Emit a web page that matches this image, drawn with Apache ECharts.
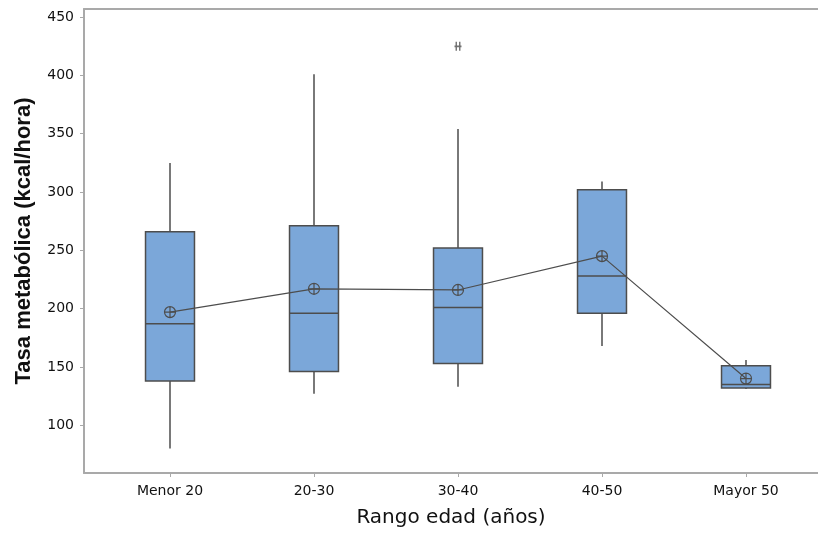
<!DOCTYPE html>
<html>
<head>
<meta charset="utf-8">
<script src="https://cdn.jsdelivr.net/npm/echarts@6/dist/echarts.min.js"></script>
<style>
  html, body { margin: 0; padding: 0; background: #fff; }
  #chart { width: 818px; height: 533px; }
</style>
</head>
<body>
<div id="chart"></div>
<script>
// datos (kcal/hora)
var categories = ['Menor 20', '20-30', '30-40', '40-50', 'Mayor 50'];
var minVals    = [80, 127, 133, 168, 131];
var q1Vals     = [138, 146, 153, 196, 132];
var medianVals = [187, 196, 201, 228, 135];
var q3Vals     = [266, 271, 252, 302, 151];
var maxVals    = [325, 401, 354, 309, 156];
var meanVals   = [197, 217, 216, 245, 140];
var outliers   = [['30-40', 425]];
var yTicks     = [100, 150, 200, 250, 300, 350, 400, 450];

var boxData = categories.map(function(c, i) {
    return [i, minVals[i], q1Vals[i], medianVals[i], q3Vals[i], maxVals[i]];
});

var lineColor = '#4d4d4d';
var boxColor = '#7ba7d9';
var frameColor = '#a9a9a9';

//caja sin remates en los bigotes (estilo Minitab)
function renderBox(params, api) {
    var x = api.value(0);
    var lo = api.coord([x, api.value(1)]);
    var q1 = api.coord([x, api.value(2)]);
    var md = api.coord([x, api.value(3)]);
    var q3 = api.coord([x, api.value(4)]);
    var hi = api.coord([x, api.value(5)]);
    var half = api.size([1, 0])[0] * 0.17;
    var st = { stroke: lineColor, lineWidth: 1.5 };
    return {
        type: 'group',
        children: [
            { type: 'line', shape: { x1: hi[0], y1: hi[1], x2: q3[0], y2: q3[1] }, style: st },
            { type: 'line', shape: { x1: q1[0], y1: q1[1], x2: lo[0], y2: lo[1] }, style: st },
            { type: 'rect', shape: { x: q3[0] - half, y: q3[1], width: half * 2, height: q1[1] - q3[1] },
              style: { fill: boxColor, stroke: lineColor, lineWidth: 1.5 } },
            { type: 'line', shape: { x1: md[0] - half, y1: md[1], x2: md[0] + half, y2: md[1] }, style: st }
        ]
    };
}

var chart = echarts.init(document.getElementById('chart'));
var option = {
    backgroundColor: '#fff',
    animation: false,
    grid: [
        { left: 98, right: -6, top: 9, bottom: 60 },
        { left: 84, right: -12, top: 9, bottom: 60 }
    ],
    xAxis: [
        {
            type: 'category',
            gridIndex: 0,
            data: categories,
            axisLine: { show: false },
            axisTick: { show: true, alignWithLabel: true, length: 4, lineStyle: { color: frameColor } },
            axisLabel: { color: '#111', fontSize: 14, fontFamily: 'DejaVu Sans', margin: 11 },
            splitLine: { show: false }
        },
        {
            type: 'value', gridIndex: 1, min: 0, max: 1, position: 'bottom',
            axisLine: { show: true, lineStyle: { color: frameColor, width: 2 } },
            axisTick: { show: false }, axisLabel: { show: false }, splitLine: { show: false },
            name: 'Rango edad (años)',
            nameLocation: 'middle',
            nameGap: 35,
            nameTextStyle: { color: '#111', fontSize: 20, fontFamily: 'DejaVu Sans' }
        },
        {
            type: 'value', gridIndex: 1, min: 0, max: 1, position: 'top',
            axisLine: { show: true, lineStyle: { color: frameColor, width: 2 } },
            axisTick: { show: false }, axisLabel: { show: false }, splitLine: { show: false }
        }
    ],
    yAxis: [
        {
            type: 'value',
            gridIndex: 0,
            min: 59,
            max: 457,
            offset: 14,
            axisLine: { show: false },
            axisTick: { show: true, length: 4, customValues: yTicks, lineStyle: { color: frameColor } },
            axisLabel: { color: '#111', fontSize: 14, fontFamily: 'DejaVu Sans', margin: 10, customValues: yTicks },
            splitLine: { show: false }
        },
        {
            type: 'value', gridIndex: 1, min: 59, max: 457,
            axisLine: { show: true, lineStyle: { color: frameColor, width: 2 } },
            axisTick: { show: false }, axisLabel: { show: false }, splitLine: { show: false },
            name: 'Tasa metabólica (kcal/hora)',
            nameLocation: 'middle',
            nameGap: 49,
            nameTextStyle: { color: '#111', fontSize: 22, fontWeight: 'bold', fontFamily: 'Liberation Sans' }
        }
    ],
    series: [
        {
            name: 'caja',
            type: 'custom',
            xAxisIndex: 0,
            yAxisIndex: 0,
            renderItem: renderBox,
            encode: { x: 0, y: [1, 2, 3, 4, 5] },
            data: boxData,
            z: 2
        },
        {
            name: 'media',
            type: 'line',
            xAxisIndex: 0,
            yAxisIndex: 0,
            data: meanVals,
            symbol: 'path://M0,5A5,5 0 1,1 10,5A5,5 0 1,1 0,5ZM5,0L5,10M0,5L10,5',
            symbolSize: 11,
            itemStyle: { color: 'rgba(0,0,0,0)', borderColor: lineColor, borderWidth: 1.2 },
            lineStyle: { color: lineColor, width: 1.2 },
            z: 5
        },
        {
            name: 'atipicos',
            type: 'scatter',
            xAxisIndex: 0,
            yAxisIndex: 0,
            data: outliers,
            symbol: 'path://M2,0L2,10M6,0L6,10M0,5L8,5',
            symbolSize: [7, 9],
            itemStyle: { color: 'rgba(0,0,0,0)', borderColor: lineColor, borderWidth: 1.6 },
            z: 5
        }
    ]
};
chart.setOption(option);
</script>
</body>
</html>
